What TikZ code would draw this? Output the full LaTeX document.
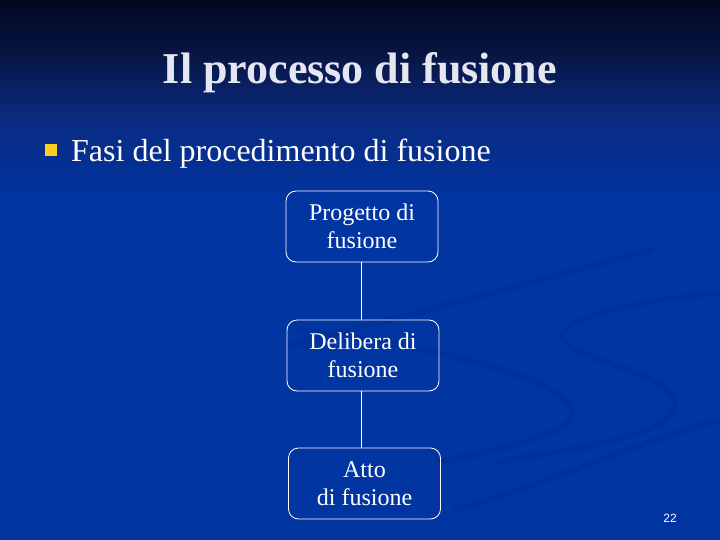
\documentclass[tikz,border=0pt]{standalone}
\usepackage{fontspec}
\setmainfont{Liberation Serif}
\newfontfamily\pgnumfont{Liberation Sans}
\definecolor{bgtop}{HTML}{03071E}
\definecolor{bgq}{HTML}{081748}
\definecolor{bgmid}{HTML}{0A2B82}
\definecolor{bgbot}{HTML}{0035A2}
\definecolor{swoosh}{HTML}{002A8C}
\definecolor{titlegray}{HTML}{E6E6F0}
\definecolor{bulletgold}{HTML}{FFCC22}
\pgfdeclareverticalshading{slidebg}{100bp}{color(0bp)=(bgbot); color(25bp)=(bgbot); color(56bp)=(bgbot); color(64bp)=(bgmid); color(69.5bp)=(bgq); color(75bp)=(bgtop); color(100bp)=(bgtop)}
\begin{document}
\begin{tikzpicture}[x=1pt,y=-1pt,
  stepbox/.style={draw=white, line width=0.8pt, rounded corners=10pt,
    minimum width=152pt, minimum height=71pt, inner sep=0pt, align=center,
    text=white, font=\fontsize{24}{28.5}\selectfont},
  conn/.style={draw=white, line width=0.8pt},
  sw/.style={draw=swoosh, line width=6pt, line cap=round, opacity=0.3}]
\useasboundingbox (0,0) rectangle (720,540);
\shade[shading=slidebg] (0,0) rectangle (720,540);
% faint background swooshes
\draw[sw] (290,345) .. controls (450,305) and (560,275) .. (650,250);
\draw[sw] (720,293) .. controls (640,300) and (560,318) .. (563,337)
          .. controls (566,360) and (690,375) .. (673,410)
          .. controls (660,440) and (560,450) .. (500,462);
\draw[sw] (300,330) .. controls (420,345) and (560,375) .. (572,410)
          .. controls (580,430) and (520,445) .. (440,462);
\draw[sw] (720,420) .. controls (640,440) and (560,480) .. (455,510);
% title
\node[font=\bfseries\fontsize{44}{50}\selectfont, text=titlegray, anchor=base] (title) at (360,84) {Il processo di fusione};
% bullet
\fill[bulletgold] (45,144) rectangle (57,156);
\node[font=\fontsize{32}{38}\selectfont, text=white, anchor=base west, inner sep=0pt] (bullet) at (71,162) {Fasi del procedimento di fusione};
% boxes
\node[stepbox] (prog) at (362,226.5) {Progetto di\\fusione};
\node[stepbox] (delib) at (363,355.5) {Delibera di\\fusione};
\node[stepbox] (atto) at (364.5,483.5) {Atto\\di fusione};
\draw[conn] (prog.south -| 361,0) -- (delib.north -| 361,0);
\draw[conn] (delib.south -| 361,0) -- (atto.north -| 361,0);
% page number
\node[font=\pgnumfont\fontsize{12}{14}\selectfont, text=white] (pg) at (670,518) {22};
\end{tikzpicture}
\end{document}
